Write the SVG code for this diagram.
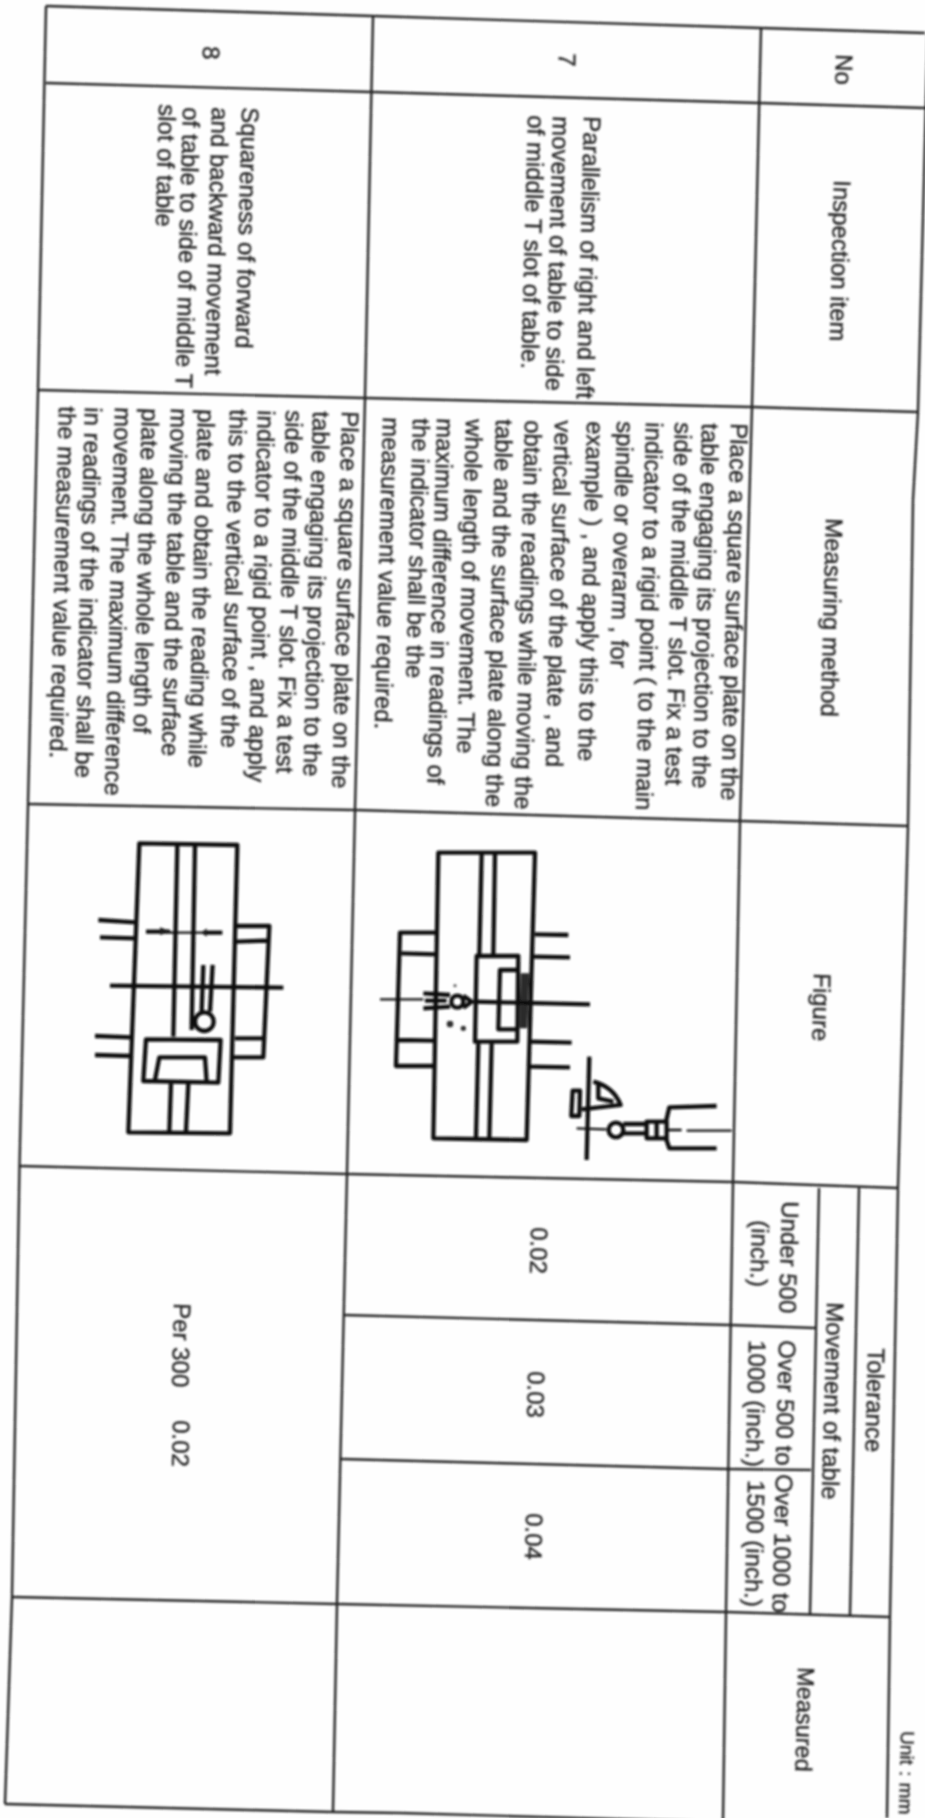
<svg xmlns="http://www.w3.org/2000/svg" width="925" height="1818" viewBox="0 0 925 1818">
<defs><filter id="s" filterUnits="userSpaceOnUse" x="0" y="0" width="925" height="1818"><feGaussianBlur stdDeviation="0.85"/></filter></defs>
<style>
text{font-family:"Liberation Sans",Arial,sans-serif;font-size:24px;fill:#222;stroke:#222;stroke-width:.35}
.u{font-size:19px;word-spacing:1px}
.t{fill:none;stroke:#222;stroke-width:2.4;stroke-linejoin:round}
.f{fill:none;stroke:#111;stroke-width:13;stroke-linejoin:round}
.n{fill:none;stroke:#111;stroke-width:7}
</style>
<rect width="925" height="1818" fill="#fefefe"/>
<g filter="url(#s)">
<g id="grid">
<polyline class="t" points="46,6 373,16 761,28 925,33"/>
<polyline class="t" points="46,83 372,92 760,103 925,108"/>
<polyline class="t" points="38,390 365,398 752,407 918,412"/>
<polyline class="t" points="28,804 355,810 740,821 908,826"/>
<polyline class="t" points="19.500,1166 347,1174 733,1182 898,1188"/>
<polyline class="t" points="12,1597 337,1604 726,1612 890,1617"/>
<polyline class="t" points="5,1804 333,1812 400,1813 723,1822"/>
<polyline class="t" points="46,6 38,390 28,804 19.500,1166 12,1597 5,1804"/>
<polyline class="t" points="373,16 365,398 355,810 347,1174 337,1604 333,1812"/>
<polyline class="t" points="761,28 752,407 740,821 733,1182 726,1612 723,1822"/>
<polyline class="t" points="928,33 926,100 918,412 913,500 908,826 898,1188 890,1617 887,1818"/>
<line class="t" x1="819" y1="1188" x2="810" y2="1615"/>
<line class="t" x1="859" y1="1188" x2="850" y2="1616"/>
<polyline class="t" points="343,1315 730,1325 815,1328"/>
<polyline class="t" points="341,1459 726,1469 811,1470"/>
</g>
<g id="header">
<text transform="translate(836 54) rotate(91.5)">No</text>
<text transform="translate(834 180) rotate(91.5)">Inspection item</text>
<text transform="translate(826 518) rotate(91.5)">Measuring method</text>
<text transform="translate(814 973) rotate(91.5)">Figure</text>
<text transform="translate(868 1348) rotate(91.5)">Tolerance</text>
<text transform="translate(827 1302) rotate(91.5)">Movement of table</text>
<text transform="translate(782 1201) rotate(91.5)">Under 500</text>
<text transform="translate(752 1220) rotate(91.5)">(inch.)</text>
<text transform="translate(779 1340) rotate(91.5)">Over 500 to</text>
<text transform="translate(749 1340) rotate(91.5)">1000 (inch.)</text>
<text transform="translate(776 1474) rotate(91.5)">Over 1000 to</text>
<text transform="translate(748 1480) rotate(91.5)">1500 (inch.)</text>
<text transform="translate(798 1667) rotate(91.5)" style="font-size:23.5px">Measured</text>
<text class="u" transform="translate(901 1731) rotate(91.5)">Unit : mm</text>
</g>
<g id="row7">
<text transform="translate(559 53) rotate(91.5)">7</text>
<text transform="translate(584 116) rotate(91.5)">Parallelism of right and left</text>
<text transform="translate(553 116) rotate(91.5)">movement of table to side</text>
<text transform="translate(528 115) rotate(91.5)">of middle T slot of table.</text>
<text transform="translate(731 423) rotate(91.5)">Place a square surface plate on the</text>
<text transform="translate(702 423) rotate(91.5)">table engaging its projection to the</text>
<text transform="translate(675 422) rotate(91.5)">side of the middle T slot. Fix a test</text>
<text transform="translate(646 422) rotate(91.5)">indicator to a rigid point ( to the main</text>
<text transform="translate(617 421) rotate(91.5)">spindle or overarm , for</text>
<text transform="translate(587 421) rotate(91.5)">example ) , and apply this to the</text>
<text transform="translate(555 420) rotate(91.5)">vertical surface of the plate , and</text>
<text transform="translate(525 420) rotate(91.5)">obtain the readings while moving the</text>
<text transform="translate(496 419) rotate(91.5)">table and the surface plate along the</text>
<text transform="translate(466 419) rotate(91.5)">whole length of movement. The</text>
<text transform="translate(437 418) rotate(91.5)">maximum difference in readings of</text>
<text transform="translate(413 418) rotate(91.5)">the indicator shall be the</text>
<text transform="translate(383 417) rotate(91.5)">measurement value required.</text>
<text transform="translate(531 1227) rotate(91.5)">0.02</text>
<text transform="translate(528 1371) rotate(91.5)">0.03</text>
<text transform="translate(526 1513) rotate(91.5)">0.04</text>
</g>
<g id="row8">
<text transform="translate(203 46) rotate(91.5)">8</text>
<text transform="translate(242 107) rotate(91.5)">Squareness of forward</text>
<text transform="translate(212 107) rotate(91.5)">and backward movement</text>
<text transform="translate(183 107) rotate(91.5)">of table to side of middle T</text>
<text transform="translate(159 104) rotate(91.5)">slot of table</text>
<text transform="translate(342 411) rotate(91.5)">Place a square surface plate on the</text>
<text transform="translate(313 411) rotate(91.5)">table engaging its projection to the</text>
<text transform="translate(286 410) rotate(91.5)">side of the middle T slot. Fix a test</text>
<text transform="translate(258 410) rotate(91.5)">indicator to a rigid point , and apply</text>
<text transform="translate(230 409) rotate(91.5)">this to the vertical surface of the</text>
<text transform="translate(198 409) rotate(91.5)">plate and obtain the reading while</text>
<text transform="translate(171 408) rotate(91.5)">moving the table and the surface</text>
<text transform="translate(142 408) rotate(91.5)">plate along the whole length of</text>
<text transform="translate(115 407) rotate(91.5)">movement. The maximum difference</text>
<text transform="translate(85 407) rotate(91.5)">in readings of the indicator shall be</text>
<text transform="translate(59 406) rotate(91.5)">the measurement value required.</text>
<text transform="translate(174 1303) rotate(91.5)">Per 300</text>
<text transform="translate(173 1420) rotate(91.5)">0.02</text>
</g>
<g id="figure7" transform="translate(380 820) scale(0.3333)">
<path class="f" d="M175,98H465L440,960L160,955Z"/>
<path class="f" d="M305,100L298,405M345,100L340,405M295,670L288,955M335,670L328,955"/>
<path class="f" d="M290,408H415L412,665H285Z"/>
<path class="f" d="M415,450H360L355,628H415"/>
<path d="M422,460H448L442,625H418Z" fill="#2a2a2a"/>
<path class="f" d="M175,338H60L48,738H160M65,400L170,403M55,660L160,662"/>
<path class="f" d="M465,343L565,345M460,410L570,412M450,665L575,668M450,740L570,742"/>
<path class="n" d="M0,538L130,538"/>
<path class="f" d="M280,545L630,553M130,520L210,525M130,565L210,560M135,542H200"/>
<circle class="f" cx="232" cy="545" r="18"/>
<path class="f" d="M250,527L275,545L250,563"/>
<circle cx="210" cy="612" r="10" fill="#333"/><circle cx="250" cy="625" r="8" fill="#333"/><circle cx="225" cy="497" r="5" fill="#666"/>
<path class="f" d="M628,710L620,1020"/>
<path class="f" d="M640,785Q700,800 722,855L605,868M655,790V835L700,845"/>
<path class="f" d="M600,812H578L574,888H598Z"/>
<path class="n" d="M590,925L680,928"/>
<circle class="f" cx="708" cy="930" r="22"/>
<path class="f" d="M730,912H800M730,940H800"/>
<path class="f" d="M800,905H860V955H800ZM830,905V955"/>
<path class="f" d="M1010,858L868,862L858,905M858,955L868,985L1010,985"/>
<path class="n" d="M860,930L905,930M920,932L1055,932"/>
</g>
<g id="figure8" transform="translate(60 820) scale(0.3333)">
<path class="f" d="M238,70L532,75L510,940L205,937Z"/>
<path class="f" d="M352,75L340,650M405,75L395,630M333,790L328,935M385,790L378,935"/>
<path class="f" d="M258,658L482,660L475,788L250,783Z"/>
<path class="f" d="M285,780L298,712H435L440,785"/>
<circle class="f" cx="433" cy="605" r="28"/>
<path class="f" d="M430,435L425,575M458,435L450,575"/>
<path class="f" d="M150,497L670,503"/>
<path class="f" d="M258,335H330M430,338H487"/>
<path class="n" d="M330,338H430"/>
<path d="M300,322L335,335L300,345ZM440,325L425,338L440,350Z" fill="#1c1c1c"/>
<path class="f" d="M115,300L225,307M120,352L225,355M105,648L215,652M105,705L212,708"/>
<path class="f" d="M530,318H628L610,712H520M530,365L620,362M525,655H612"/>
</g>
</g>
</svg>
